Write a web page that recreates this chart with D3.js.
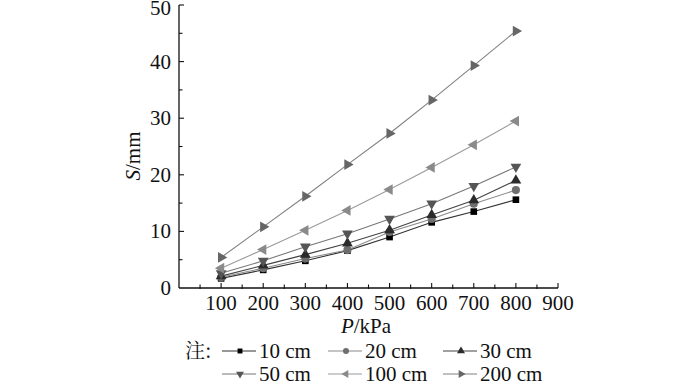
<!DOCTYPE html>
<html><head><meta charset="utf-8">
<script src="https://cdn.jsdelivr.net/npm/d3@7"></script>
<style>
html,body{margin:0;padding:0;background:#fff;}
svg{display:block;}
</style></head>
<body><svg id="c" width="700" height="381"></svg>
<script>
const pressures = [100,200,300,400,500,600,700,800];
const seriesNames = ["10 cm","20 cm","30 cm","50 cm","100 cm","200 cm"];
const s10  = [1.7, 3.2, 4.8, 6.6, 9.0, 11.6, 13.5, 15.6];
const s20  = [1.9, 3.5, 5.2, 6.7, 9.9, 12.2, 14.9, 17.3];
const s30  = [2.1, 4.0, 5.9, 7.9, 10.2, 12.9, 15.5, 19.0];
const s50  = [2.6, 4.8, 7.3, 9.6, 12.2, 14.9, 18.0, 21.4];
const s100 = [3.5, 6.8, 10.2, 13.7, 17.4, 21.3, 25.3, 29.5];
const s200 = [5.4, 10.8, 16.2, 21.8, 27.3, 33.2, 39.3, 45.4];
const xTicks = [100,200,300,400,500,600,700,800,900];
const yTicks = [0,10,20,30,40,50];

const FONT = "'Liberation Serif'";
const seriesValues = [s10,s20,s30,s50,s100,s200];
const markerColors = ["#000000","#6e6e6e","#2b2b2b","#555555","#8a8a8a","#666666"];
const lineColors   = ["#333333","#8a8a8a","#444444","#777777","#9a9a9a","#808080"];
const symType = [d3.symbolSquare,d3.symbolCircle,d3.symbolTriangle,d3.symbolTriangle,d3.symbolTriangle,d3.symbolTriangle];
const symRot  = [0,0,0,180,-90,90];
const symSize = [44,52,50,50,50,50];

const svg = d3.select("#c");
const x = d3.scaleLinear().domain([0,900]).range([179,558]);
const y = d3.scaleLinear().domain([0,50]).range([288,5]);

const g = svg.append("g");
g.append("line").attr("x1",x(0)).attr("x2",x(900)).attr("y1",y(0)).attr("y2",y(0)).attr("stroke","#111").attr("stroke-width",1.3);
g.append("line").attr("x1",x(0)).attr("x2",x(0)).attr("y1",y(0)).attr("y2",y(50)).attr("stroke","#111").attr("stroke-width",1.3);

d3.range(50,901,50).forEach(v=>{
  const major = v%100===0;
  g.append("line").attr("x1",x(v)).attr("x2",x(v)).attr("y1",y(0)+(major?0:1)).attr("y2",y(0)-(major?5:3.5)).attr("stroke","#111").attr("stroke-width",1.1);
});
d3.range(5,51,5).forEach(v=>{
  const major = v%10===0;
  g.append("line").attr("x1",x(0)).attr("x2",x(0)+(major?5:3.5)).attr("y1",y(v)).attr("y2",y(v)).attr("stroke","#111").attr("stroke-width",1.1);
});
g.selectAll(".xt").data(xTicks).enter().append("text")
  .attr("x",d=>x(d)).attr("y",310).attr("text-anchor","middle").attr("font-size",21)
  .attr("font-family",FONT).attr("fill","#111").text(d=>d);
g.selectAll(".yt").data(yTicks).enter().append("text")
  .attr("x",171).attr("y",d=>Math.max(y(d)+7,15)).attr("text-anchor","end").attr("font-size",21)
  .attr("font-family",FONT).attr("fill","#111").text(d=>d);

const xl = g.append("text").attr("x",366).attr("y",333).attr("text-anchor","middle").attr("font-size",21).attr("font-family",FONT).attr("fill","#111");
xl.append("tspan").attr("font-style","italic").text("P");
xl.append("tspan").text("/kPa");
const yl = g.append("text").attr("transform","translate(140,156) rotate(-90)").attr("text-anchor","middle").attr("font-size",21).attr("font-family",FONT).attr("fill","#111");
yl.append("tspan").attr("font-style","italic").text("S");
yl.append("tspan").text("/mm");

const line = d3.line().x((d,i)=>x(pressures[i])).y(d=>y(d));
seriesValues.forEach((vals,k)=>{
  svg.append("path").datum(vals).attr("d",line).attr("fill","none")
    .attr("stroke",lineColors[k]).attr("stroke-width",1.1);
});
seriesValues.forEach((vals,k)=>{
  const sym = d3.symbol().type(symType[k]).size(symSize[k]);
  svg.selectAll(null).data(vals).enter().append("path")
    .attr("d",sym)
    .attr("transform",(d,i)=>`translate(${x(pressures[i])},${y(d)}) rotate(${symRot[k]})`)
    .attr("fill",markerColors[k]);
});

const lg = svg.append("g");
lg.append("text").attr("x",185).attr("y",358).attr("font-size",20)
  .attr("font-family","'Noto Serif CJK SC'").attr("fill","#111").text("注:");
const legX = [222,328,443];
const legRows = [351,374];
seriesNames.forEach((name,k)=>{
  const col = k%3, row = Math.floor(k/3);
  const x0 = legX[col], yy = legRows[row];
  lg.append("line").attr("x1",x0).attr("x2",x0+34).attr("y1",yy).attr("y2",yy).attr("stroke",lineColors[k]).attr("stroke-width",1.1);
  lg.append("path").attr("d",d3.symbol().type(symType[k]).size(symSize[k]*0.55)())
    .attr("transform",`translate(${x0+18},${yy}) rotate(${symRot[k]})`).attr("fill",markerColors[k]);
  lg.append("text").attr("x",x0+37).attr("y",yy+7).attr("font-size",21)
    .attr("font-family",FONT).attr("fill","#111").text(name);
});
</script></body></html>
